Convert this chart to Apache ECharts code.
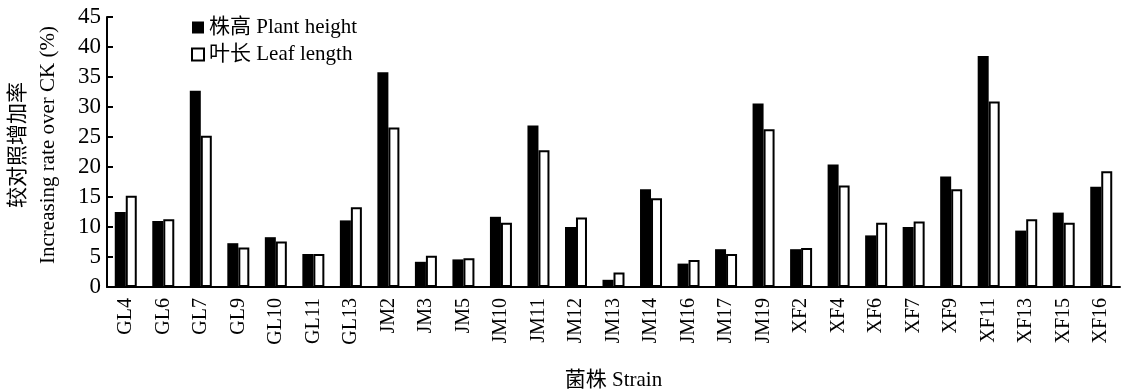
<!DOCTYPE html>
<html><head><meta charset="utf-8">
<script src="https://cdn.jsdelivr.net/npm/echarts@6/dist/echarts.min.js"></script>
<style>html,body{margin:0;padding:0;background:#fff}#c{width:1121px;height:392px}</style>
</head><body><div id="c"></div>
<script>
const categories = ['GL4','GL6','GL7','GL9','GL10','GL11','GL13','JM2','JM3','JM5','JM10','JM11','JM12','JM13','JM14','JM16','JM17','JM19','XF2','XF4','XF6','XF7','XF9','XF11','XF13','XF15','XF16'];
const plantHeight = [12.5,11.0,32.7,7.3,8.3,5.5,11.1,35.8,4.2,4.6,11.7,26.9,10.0,1.2,16.3,3.9,6.3,30.6,6.3,20.4,8.6,10.0,18.4,38.5,9.4,12.4,16.7];
const leafLength = [15.2,11.3,25.2,6.6,7.6,5.5,13.3,26.6,5.2,4.8,10.7,22.8,11.6,2.4,14.8,4.5,5.5,26.3,6.5,16.9,10.7,10.9,16.3,30.9,11.3,10.7,19.3];
const yTicks = {min:0, max:45, interval:5};
const seriesNames = ['株高 Plant height','叶长 Leaf length'];
const yName = '较对照增加率\nIncreasing rate over CK (%)';
const xName = '菌株 Strain';

const FONT = "'Liberation Serif','Noto Sans CJK SC',serif";
const chart = echarts.init(document.getElementById('c'), null, {renderer:'canvas'});
chart.setOption({
  animation:false,
  backgroundColor:'#fff',
  textStyle:{fontFamily:FONT, color:'#000'},
  grid:{left:107, right:1, top:17, bottom:105, containLabel:false, outerBoundsMode:'none'},
  legend:{
    orient:'vertical', left:191, top:17, padding:0, itemWidth:12, itemHeight:12, itemGap:6,
    icon:'rect',
    textStyle:{fontFamily:FONT, fontSize:21, color:'#000', lineHeight:21},
    data:seriesNames
  },
  xAxis:{
    type:'category', data:categories,
    axisLine:{lineStyle:{color:'#000', width:2}},
    axisTick:{inside:true, length:6, lineStyle:{color:'#000', width:2}},
    axisLabel:{rotate:90, margin:11, fontSize:20, color:'#000', fontFamily:FONT},
    name:xName, nameLocation:'middle', nameGap:83,
    nameTextStyle:{fontSize:21, color:'#000', fontFamily:FONT}
  },
  yAxis:{
    type:'value', min:yTicks.min, max:yTicks.max, interval:yTicks.interval,
    splitLine:{show:false},
    axisLine:{show:true, lineStyle:{color:'#000', width:2}},
    axisTick:{show:true, inside:true, length:6, lineStyle:{color:'#000', width:2}},
    axisLabel:{margin:6, fontSize:23, color:'#000', fontFamily:FONT},
    name:yName, nameLocation:'middle', nameGap:44, nameRotate:90,
    nameTextStyle:{fontSize:21, color:'#000', fontFamily:FONT, lineHeight:30, padding:[0,0,0,14]}
  },
  series:[
    {name:seriesNames[0], type:'bar', data:plantHeight, barWidth:11, barGap:'0%',
     itemStyle:{color:'#000', borderColor:'#000', borderWidth:0}},
    {name:seriesNames[1], type:'bar', data:leafLength, barWidth:11,
     itemStyle:{color:'#fff', borderColor:'#000', borderWidth:2}}
  ]
});
</script></body></html>
